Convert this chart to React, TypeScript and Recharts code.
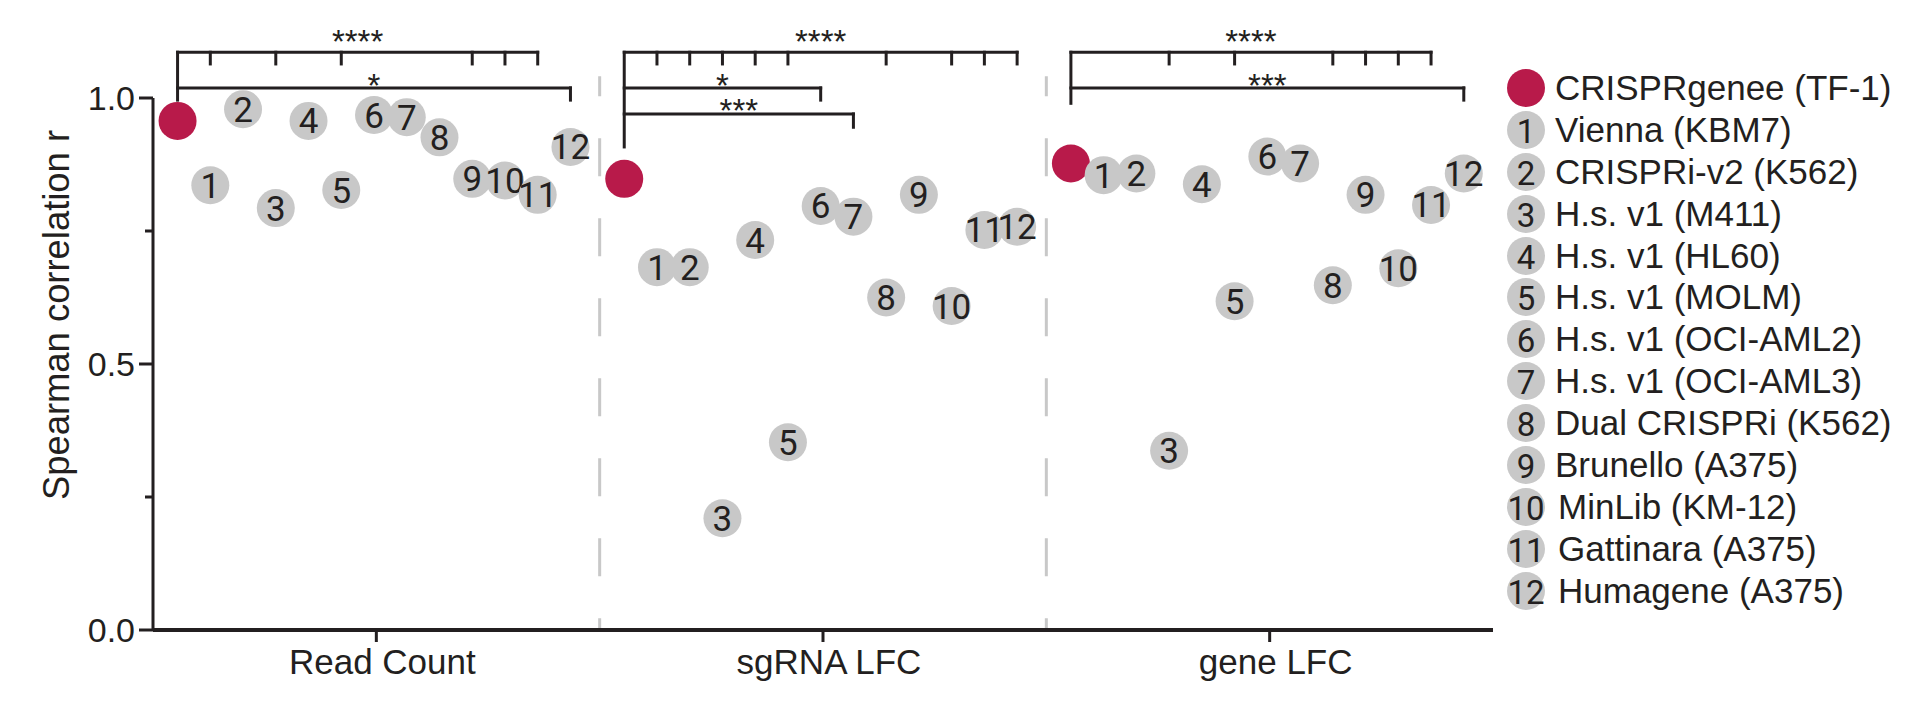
import React from 'react';
import {
  ScatterChart,
  Scatter,
  XAxis,
  YAxis,
  ReferenceLine,
  ReferenceDot,
  Legend,
  Label,
} from 'recharts';

const categories = ['Read Count', 'sgRNA LFC', 'gene LFC'];

const libraries = [
  'CRISPRgenee (TF-1)',
  'Vienna (KBM7)',
  'CRISPRi-v2 (K562)',
  'H.s. v1 (M411)',
  'H.s. v1 (HL60)',
  'H.s. v1 (MOLM)',
  'H.s. v1 (OCI-AML2)',
  'H.s. v1 (OCI-AML3)',
  'Dual CRISPRi (K562)',
  'Brunello (A375)',
  'MinLib (KM-12)',
  'Gattinara (A375)',
  'Humagene (A375)',
];

// first value of each list is CRISPRgenee, then libraries 1..12
const readCount = [0.957, 0.836, 0.979, 0.793, 0.957, 0.827, 0.968, 0.964, 0.926, 0.848, 0.845, 0.818, 0.908];
const sgrnaLfc = [0.848, 0.682, 0.682, 0.21, 0.733, 0.353, 0.797, 0.777, 0.625, 0.818, 0.609, 0.752, 0.758];
const geneLfc = [0.877, 0.855, 0.858, 0.337, 0.838, 0.618, 0.89, 0.877, 0.648, 0.818, 0.68, 0.799, 0.858];

const yTicks = [0, 0.25, 0.5, 0.75, 1];

// significance brackets: from CRISPRgenee to library `to`, extra ticks for the shared bracket
const sigBrackets = [
  { cat: 0, level: 0, to: 11, label: '****', ticks: [1, 3, 5, 9, 10] },
  { cat: 0, level: 1, to: 12, label: '*', ticks: [] },
  { cat: 1, level: 0, to: 12, label: '****', ticks: [1, 2, 3, 4, 5, 8, 10, 11] },
  { cat: 1, level: 1, to: 6, label: '*', ticks: [] },
  { cat: 1, level: 2, to: 7, label: '***', ticks: [] },
  { cat: 2, level: 0, to: 11, label: '****', ticks: [3, 5, 8, 9, 10] },
  { cat: 2, level: 1, to: 12, label: '***', ticks: [] },
];
const stemBottom = [0.996, 0.908, 0.99];
const levelLine = [1.086, 1.019, 0.97];
const levelDrop = [1.064, 0.996, 0.945];
const levelLabel = [1.106, 1.024, 0.977];

const INK = '#231f20';
const RED = '#b81a4a';
const GRAY = '#c8c8c8';
const FONT = 'Arial, "Liberation Sans", Helvetica, sans-serif';
// the marker digits: Liberation's "1" carries a foot, the original's does not
const DIGIT_FONT = 'Roboto, Arial, sans-serif';

const slot = (cat: number, k: number) => cat + 0.055 + k * 0.0733;

const series = [readCount, sgrnaLfc, geneLfc];
const redPoints = series.map((vals, cat) => ({ x: slot(cat, 0), y: vals[0] }));
const grayPoints = series.flatMap((vals, cat) =>
  vals.slice(1).map((v, i) => ({ x: slot(cat, i + 1), y: v, n: i + 1 }))
);

const RedDot = (props: any) => {
  const { cx, cy } = props;
  return <circle cx={cx} cy={cy} r={19} fill={RED} />;
};

const GrayDot = (props: any) => {
  const { cx, cy, payload } = props;
  return (
    <g>
      <circle cx={cx} cy={cy} r={19} fill={GRAY} />
      <text
        x={cx}
        y={cy + 1}
        textAnchor="middle"
        dominantBaseline="central"
        fontSize={35}
        fontFamily={DIGIT_FONT}
        fill={INK}
      >
        {payload.n}
      </text>
    </g>
  );
};

const YTick = (props: any) => {
  const { x, y, payload } = props;
  const major = payload.value % 0.5 === 0;
  return (
    <g>
      <line x1={x - (major ? 14 : 8)} x2={x} y1={y} y2={y} stroke={INK} strokeWidth={3} />
      {major && (
        <text
          x={x - 18}
          y={y}
          textAnchor="end"
          dominantBaseline="central"
          fontSize={34}
          fontFamily={FONT}
          fill={INK}
        >
          {payload.value.toFixed(1)}
        </text>
      )}
    </g>
  );
};

const renderLegend = () => (
  <div style={{ fontFamily: FONT, color: INK }}>
    {libraries.map((name, i) => (
      <div key={name} style={{ display: 'flex', alignItems: 'center', height: 41.9 }}>
        <svg width={40} height={42} style={{ flex: 'none', overflow: 'visible' }}>
          <circle cx={20} cy={21} r={19} fill={i === 0 ? RED : GRAY} />
          {i > 0 && (
            <text
              x={20}
              y={22}
              textAnchor="middle"
              dominantBaseline="central"
              fontSize={33}
              fontFamily={DIGIT_FONT}
              fill={INK}
            >
              {i}
            </text>
          )}
        </svg>
        <span style={{ marginLeft: i >= 10 ? 12 : 9, fontSize: 35, whiteSpace: 'nowrap' }}>{name}</span>
      </div>
    ))}
  </div>
);

const lineProps = {
  stroke: INK,
  strokeWidth: 3,
  strokeLinecap: 'square' as const,
  ifOverflow: 'visible' as const,
};

export default function App() {
  const bracketLines: React.ReactNode[] = [];
  sigBrackets.forEach((b, idx) => {
    const x0 = slot(b.cat, 0);
    const x1 = slot(b.cat, b.to);
    const yl = levelLine[b.level];
    const yd = levelDrop[b.level];
    bracketLines.push(
      <ReferenceLine key={`h${idx}`} segment={[{ x: x0, y: yl }, { x: x1, y: yl }]} {...lineProps} />,
      <ReferenceLine key={`r${idx}`} segment={[{ x: x1, y: yl }, { x: x1, y: yd }]} {...lineProps} />
    );
    b.ticks.forEach((t) => {
      const xt = slot(b.cat, t);
      bracketLines.push(
        <ReferenceLine key={`t${idx}-${t}`} segment={[{ x: xt, y: yl }, { x: xt, y: yd }]} {...lineProps} />
      );
    });
    bracketLines.push(
      <ReferenceDot
        key={`l${idx}`}
        x={(x0 + x1) / 2}
        y={levelLabel[b.level]}
        r={0}
        fill="none"
        stroke="none"
        ifOverflow="visible"
        label={{ value: b.label, position: 'center', fontSize: 33, fill: INK, fontFamily: FONT }}
      />
    );
  });
  categories.forEach((_, cat) => {
    bracketLines.push(
      <ReferenceLine
        key={`stem${cat}`}
        segment={[
          { x: slot(cat, 0), y: levelLine[0] },
          { x: slot(cat, 0), y: stemBottom[cat] },
        ]}
        {...lineProps}
      />
    );
  });

  return (
    <div style={{ position: 'absolute', left: 0, top: 0, width: 1920, height: 720, background: '#fff' }}>
      <ScatterChart
        width={1920}
        height={720}
        margin={{ top: 98, right: 427, bottom: 50, left: 0 }}
        style={{ fontFamily: FONT }}
      >
        <XAxis
          type="number"
          dataKey="x"
          domain={[0, 3]}
          ticks={[0.5, 1.5, 2.5]}
          interval={0}
          tickFormatter={(v: number) => categories[Math.floor(v)]}
          height={40}
          tickSize={12}
          tickMargin={7}
          axisLine={{ stroke: INK, strokeWidth: 4 }}
          tickLine={{ stroke: INK, strokeWidth: 3 }}
          tick={{ fontSize: 35, fill: INK, fontFamily: FONT, dx: 6 }}
        />
        <YAxis
          type="number"
          dataKey="y"
          domain={[0, 1]}
          ticks={yTicks}
          interval={0}
          width={153}
          tickSize={0}
          tickMargin={0}
          tickLine={false}
          axisLine={{ stroke: INK, strokeWidth: 3 }}
          tick={<YTick />}
        >
          <Label
            content={() => (
              <text
                x={56}
                y={315}
                transform="rotate(-90 56 315)"
                textAnchor="middle"
                dominantBaseline="central"
                fontSize={36}
                textLength={370}
                lengthAdjust="spacingAndGlyphs"
                fontFamily={FONT}
                fill={INK}
              >
                Spearman correlation r
              </text>
            )}
          />
        </YAxis>
        {[1, 2].map((d) => (
          <ReferenceLine
            key={`div${d}`}
            segment={[{ x: d, y: 1.041 }, { x: d, y: 0 }]}
            stroke={GRAY}
            strokeWidth={3}
            strokeDasharray="38 42"
            strokeDashoffset={18}
            ifOverflow="visible"
          />
        ))}
        {bracketLines}
        <Scatter data={redPoints} shape={<RedDot />} isAnimationActive={false} />
        <Scatter data={grayPoints} shape={<GrayDot />} isAnimationActive={false} />
        <Legend
          layout="vertical"
          align="center"
          verticalAlign="middle"
          content={renderLegend}
          wrapperStyle={{ left: 1506, top: 67, width: 412 }}
        />
      </ScatterChart>
    </div>
  );
}
